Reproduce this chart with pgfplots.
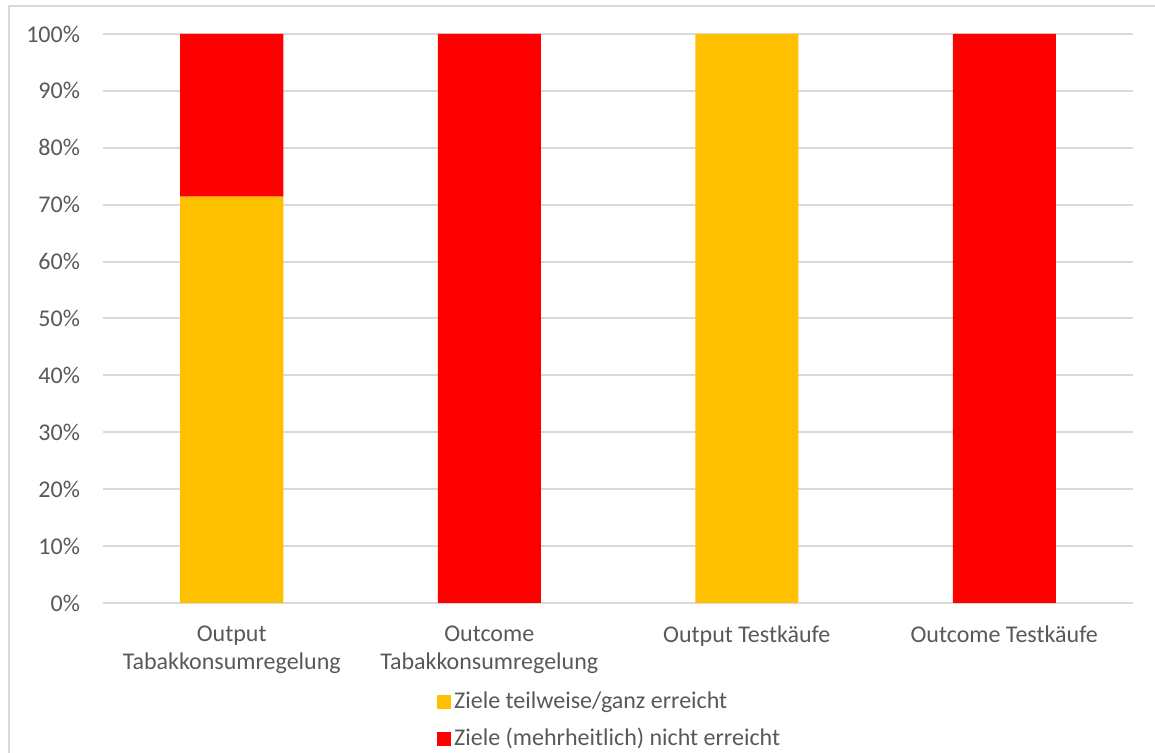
\documentclass[border=0pt]{standalone}
\usepackage{pgfplots}
\pgfplotsset{compat=1.18}
\usepackage{fontspec}
\setmainfont{Carlito}
\definecolor{txtgray}{HTML}{595959}
\definecolor{gridgray}{HTML}{D9D9D9}
\definecolor{zielgelb}{HTML}{FFC000}
\definecolor{zielrot}{HTML}{FF0000}
\begin{document}
\begin{tikzpicture}
\useasboundingbox (0,0) rectangle (577.5pt,376.5pt);
\fill[white] (0,0) rectangle (577.5pt,376.5pt);
\draw[gridgray, line width=1pt] (4.5pt,0) -- (4.5pt,373.5pt) -- (577.5pt,373.5pt);
\begin{axis}[
    at={(51.5pt,75pt)}, anchor=south west,
    scale only axis,
    width=515pt, height=284.5pt,
    ybar stacked,
    bar width=51.5pt,
    xmin=-0.5, xmax=3.5,
    ymin=0, ymax=100,
    axis x line*=bottom,
    axis y line*=left,
    x axis line style={draw=none},
    y axis line style={draw=none},
    ymajorgrids,
    grid style={gridgray, line width=1pt},
    major tick length=0pt,
    ytick={0,10,...,100},
    yticklabels={0\%,10\%,20\%,30\%,40\%,50\%,60\%,70\%,80\%,90\%,100\%},
    xtick={0,1,2,3},
    xticklabels={Output\\Tabakkonsumregelung, Outcome\\Tabakkonsumregelung, Output Testkäufe, Outcome Testkäufe},
    xticklabel style={align=center, text=txtgray, font=\fontsize{12}{14}\selectfont, yshift=-8pt},
    yticklabel style={text=txtgray, font=\fontsize{12}{14}\selectfont, xshift=-8pt},
    legend columns=1,
    legend style={at={(0.324,-0.150)}, anchor=north west, draw=none, fill=none,
        font=\fontsize{12}{14}\selectfont, text=txtgray, inner sep=0pt,
        row sep=5.5pt,
        nodes={inner sep=1.5pt}},
    legend image code/.code={\fill[#1] (0pt,-3.5pt) rectangle (7pt,3.5pt);},
    legend cell align=left,
]
\addplot[fill=zielgelb, draw=none] coordinates {(0,71.4) (1,0) (2,100) (3,0)};
\addplot[fill=zielrot, draw=none] coordinates {(0,28.6) (1,100) (2,0) (3,100)};
\legend{Ziele teilweise/ganz erreicht, Ziele (mehrheitlich) nicht erreicht}
\end{axis}
\end{tikzpicture}
\end{document}
